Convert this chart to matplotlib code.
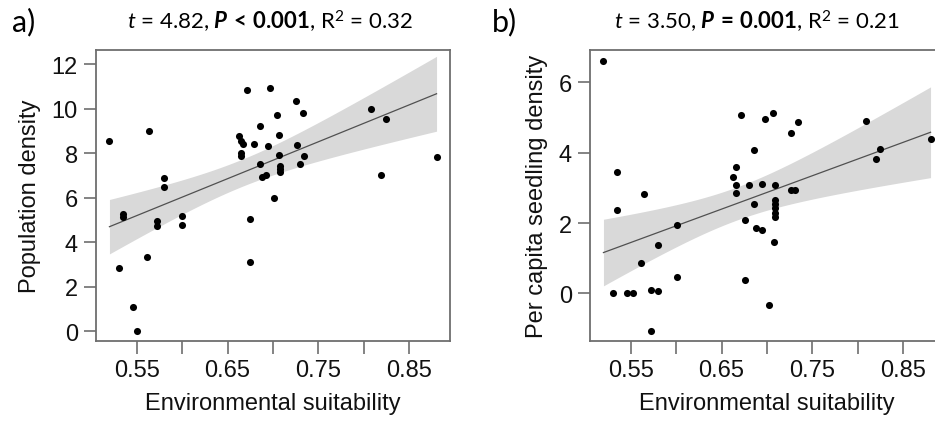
import numpy as np
import matplotlib
matplotlib.use("Agg")
import matplotlib.pyplot as plt

# ---------------- data ----------------
xa = [0.520, 0.564, 0.671, 0.697, 0.725, 0.704, 0.733, 0.686, 0.663, 0.665,
      0.667, 0.679, 0.694, 0.707, 0.726, 0.665, 0.665, 0.707, 0.734, 0.686,
      0.730, 0.708, 0.708, 0.708, 0.688, 0.692, 0.701, 0.580, 0.580, 0.535,
      0.535, 0.600, 0.675, 0.572, 0.572, 0.600, 0.675, 0.561, 0.531, 0.546,
      0.550, 0.808, 0.824, 0.880, 0.819]
ya = [8.58, 9.00, 10.87, 10.93, 10.35, 9.75, 9.80, 9.25, 8.80, 8.56,
      8.43, 8.44, 8.34, 8.82, 8.39, 8.02, 7.90, 7.92, 7.90, 7.51,
      7.51, 7.45, 7.30, 7.16, 6.96, 7.01, 5.99, 6.89, 6.50, 5.28,
      5.13, 5.19, 5.05, 4.95, 4.74, 4.80, 3.14, 3.36, 2.84, 1.09,
      0.00, 10.00, 9.55, 7.84, 7.05]

xb = [0.520, 0.535, 0.535, 0.565, 0.671, 0.698, 0.707, 0.734, 0.726, 0.686,
      0.666, 0.663, 0.666, 0.666, 0.680, 0.694, 0.709, 0.726, 0.731, 0.686,
      0.709, 0.709, 0.709, 0.709, 0.709, 0.676, 0.601, 0.688, 0.694, 0.580,
      0.708, 0.561, 0.601, 0.676, 0.531, 0.546, 0.552, 0.572, 0.580, 0.702,
      0.572, 0.809, 0.824, 0.820, 0.880]
yb = [6.60, 3.45, 2.38, 2.84, 5.08, 4.95, 5.13, 4.87, 4.56, 4.08,
      3.60, 3.30, 3.07, 2.87, 3.07, 3.12, 3.09, 2.93, 2.95, 2.53,
      2.65, 2.53, 2.42, 2.30, 2.18, 2.10, 1.96, 1.86, 1.81, 1.38,
      1.46, 0.87, 0.48, 0.38, 0.01, 0.00, 0.00, 0.10, 0.07, -0.33,
      -1.07, 4.91, 4.11, 3.82, 4.39]

x_ticks = [0.55, 0.60, 0.65, 0.70, 0.75, 0.80, 0.85]
x_ticklabels = ["0.55", "", "0.65", "", "0.75", "", "0.85"]
ya_ticks = [0, 2, 4, 6, 8, 10, 12]
yb_ticks = [0, 2, 4, 6]

panel_tags = ["a)", "b)"]
titles = [r"$\mathit{t}$ = 4.82, $\mathbfit{P}\mathbf{\,<\,0.001}$, R$^2$ = 0.32",
          r"$\mathit{t}$ = 3.50, $\mathbfit{P}\mathbf{\,=\,0.001}$, R$^2$ = 0.21"]
ylabels = ["Population density", "Per capita seedling density"]
xlabel = "Environmental suitability"
T_CRIT = 2.017  # ~95% two-sided, df ~ 43

# ---------------- style ----------------
plt.rcParams["font.family"] = ["Liberation Sans", "DejaVu Sans"]
plt.rcParams["mathtext.fontset"] = "custom"
plt.rcParams["mathtext.rm"] = "Lato"
plt.rcParams["mathtext.it"] = "Lato:italic"
plt.rcParams["mathtext.bf"] = "Lato:bold"
plt.rcParams["mathtext.bfit"] = "Lato:bold:italic"

fig = plt.figure(figsize=(9.35, 4.27), dpi=100)
W, H = 935, 427

def add_ax(left_px, right_px, top_px, bottom_px):
    return fig.add_axes([left_px / W, 1 - bottom_px / H,
                         (right_px - left_px) / W, (bottom_px - top_px) / H])

axa = add_ax(96, 450, 51, 342)
axb = add_ax(590, 944, 51, 342)

spine_col = "#6e6e6e"

def draw(ax, x, y, yticks, ylim, ylabel):
    x = np.asarray(x); y = np.asarray(y)
    n = len(x)
    xm = x.mean()
    sxx = ((x - xm) ** 2).sum()
    b = ((x - xm) * (y - y.mean())).sum() / sxx
    a = y.mean() - b * xm
    resid = y - (a + b * x)
    s = np.sqrt((resid ** 2).sum() / (n - 2))
    xs = np.linspace(x.min(), x.max(), 200)
    fit = a + b * xs
    se = s * np.sqrt(1 / n + (xs - xm) ** 2 / sxx)
    ax.fill_between(xs, fit - T_CRIT * se, fit + T_CRIT * se,
                    color="#d9d9d9", lw=0, zorder=1)
    ax.plot(xs, fit, color="#505050", lw=0.9, zorder=2)
    ax.scatter(x, y, s=26, color="black", lw=0, zorder=3)
    ax.set_xlim(0.5052, 0.8948)
    ax.set_ylim(*ylim)
    ax.set_xticks(x_ticks)
    ax.set_xticklabels(x_ticklabels)
    ax.set_yticks(yticks)
    ax.tick_params(axis="both", labelsize=17, length=9, width=1.2,
                   color=spine_col, labelcolor="#111111", pad=4)
    for sp in ax.spines.values():
        sp.set_color(spine_col)
        sp.set_linewidth(1.3)
    ax.set_xlabel(xlabel, fontsize=17, labelpad=8, color="#111111")
    ax.set_ylabel(ylabel, fontsize=17, labelpad=8, color="#111111")

draw(axa, xa, ya, ya_ticks, (-0.43, 12.65), ylabels[0])
draw(axb, xb, yb, yb_ticks, (-1.35, 6.92), ylabels[1])

fig.text(12 / W, 1 - 22 / H, panel_tags[0], fontsize=22, family="Lato",
         va="center", ha="left")
fig.text(492 / W, 1 - 22 / H, panel_tags[1], fontsize=22, family="Lato",
         va="center", ha="left")
fig.text(270 / W, 1 - 22 / H, titles[0], fontsize=16, family="Lato",
         va="center", ha="center")
fig.text(757 / W, 1 - 22 / H, titles[1], fontsize=16, family="Lato",
         va="center", ha="center")

fig.savefig("out.png", dpi=100)
